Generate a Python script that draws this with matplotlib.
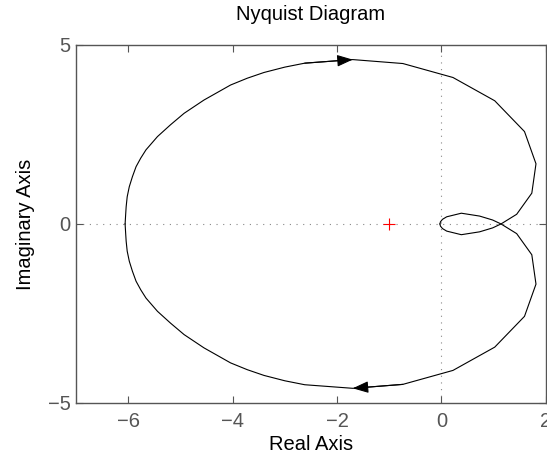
import matplotlib
matplotlib.use("Agg")
import numpy as np
import matplotlib.pyplot as plt

plt.rcParams['font.family'] = ['Liberation Sans', 'DejaVu Sans']

# Positive-frequency branch of the Nyquist curve (real, imaginary)
re_pos = [-6.06, -6.05, -6.04, -6.02, -5.98, -5.92, -5.85, -5.76, -5.66, -5.44,
          -5.19, -4.93, -4.55, -4.04, -3.72, -3.40, -3.00, -2.62, -1.70, -0.74,
          0.22, 1.02, 1.59, 1.81, 1.73, 1.44, 1.14, 0.98, 0.73, 0.38,
          0.10, 0.02, -0.02, -0.03]
im_pos = [0.00, 0.25, 0.48, 0.76, 1.04, 1.32, 1.60, 1.84, 2.07, 2.44,
          2.77, 3.09, 3.46, 3.88, 4.07, 4.23, 4.38, 4.49, 4.59, 4.48,
          4.09, 3.44, 2.58, 1.68, 0.86, 0.27, 0.00, -0.11, -0.22, -0.30,
          -0.20, -0.13, -0.06, 0.00]

# critical point
crit = (-1, 0)

xticks = [-6, -4, -2, 0, 2]
yticks = [-5, 0, 5]

re_pos = np.array(re_pos)
im_pos = np.array(im_pos)
# negative frequencies are the complex conjugate, traversed back to w = 0
re_neg = re_pos[::-1]
im_neg = -im_pos[::-1]

fig = plt.figure(figsize=(5.47, 4.55), dpi=100)
ax = fig.add_axes([0.139, 0.1143, 0.859, 0.787])

grey = '#555555'
dots = (0, (1, 5))
ax.axhline(0, color='#888888', lw=0.8, linestyle=dots, zorder=1)
ax.axvline(0, color='#888888', lw=0.8, linestyle=dots, zorder=1)

ax.plot(re_pos, im_pos, color='k', lw=0.8, zorder=2)
ax.plot(re_neg, im_neg, color='k', lw=0.8, zorder=2)

# direction arrows on the top and bottom arcs
arrow = dict(arrowstyle='-|>,head_length=0.8,head_width=0.3', color='k',
             lw=0.8, shrinkA=0, shrinkB=0, mutation_scale=12)
i = re_pos.tolist().index(-1.70)
ax.annotate('', xy=(re_pos[i], im_pos[i]), xytext=(re_pos[i - 1], im_pos[i - 1]),
            arrowprops=arrow, zorder=3)
j = len(re_neg) - 1 - i
ax.annotate('', xy=(re_neg[j], im_neg[j]), xytext=(re_neg[j - 1], im_neg[j - 1]),
            arrowprops=arrow, zorder=3)

ax.plot(*crit, marker='+', color='r', markersize=9, mew=0.8, zorder=3)

ax.set_xlim(-7, 2)
ax.set_ylim(-5, 5)
ax.set_xticks(xticks)
ax.set_yticks(yticks)
ax.set_xticklabels(['\u2212' + str(abs(t)) if t < 0 else str(t) for t in xticks])
ax.set_yticklabels(['\u2212' + str(abs(t)) if t < 0 else str(t) for t in yticks])

ax.tick_params(direction='in', length=5, width=0.8, color=grey, labelcolor=grey,
               labelsize=14.5, top=True, right=True)
ax.tick_params(axis='x', pad=6.5)
ax.tick_params(axis='y', pad=4)
for s in ax.spines.values():
    s.set_color(grey)
    s.set_linewidth(1.0)

ax.set_title('Nyquist Diagram', fontsize=14.5, pad=18)
ax.set_xlabel('Real Axis', fontsize=14.5, labelpad=3)
ax.set_ylabel('Imaginary Axis', fontsize=14.5, labelpad=9)

fig.savefig('out.png', dpi=100)
